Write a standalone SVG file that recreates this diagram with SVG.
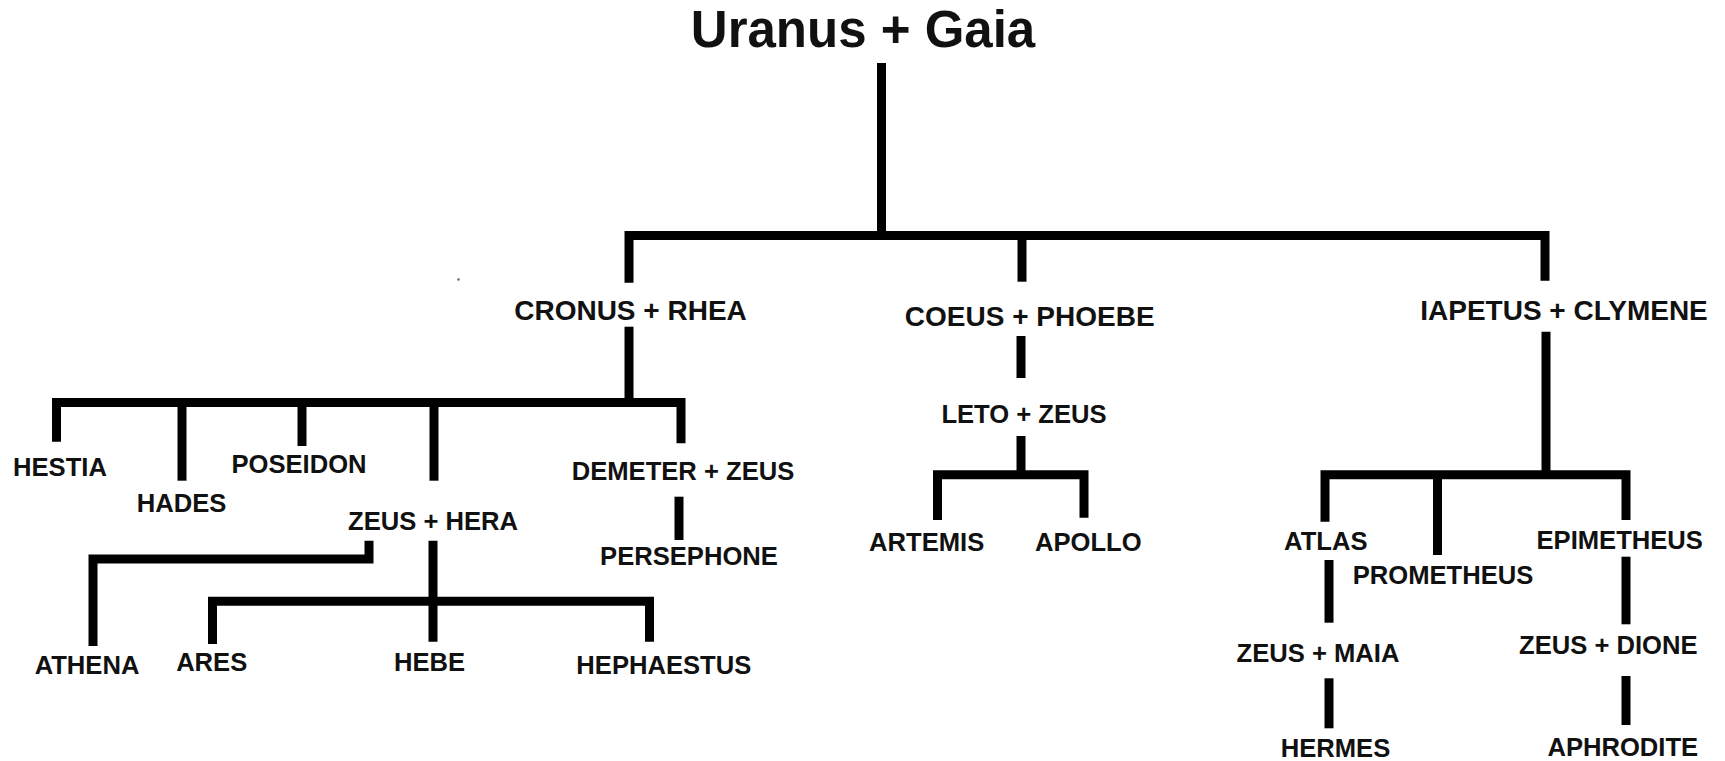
<svg xmlns="http://www.w3.org/2000/svg" width="1725" height="761" viewBox="0 0 1725 761">
<style>
text{font-family:"Liberation Sans",Arial,sans-serif;font-weight:bold;fill:#111;text-anchor:middle}
.t0{font-size:51px}
.t1{font-size:28px}
.t2{font-size:25.6px}
.c{fill:none;stroke:#000;stroke-width:9;stroke-linecap:butt;stroke-linejoin:miter}
</style>
<rect width="1725" height="761" fill="#fff"/>
<g id="connectors">
<path class="c" d="M881.5 63V236"/>
<path class="c" d="M629 282.7V235.5H1545V280.7"/>
<path class="c" d="M1022 235.5V281.7"/>
<path class="c" d="M629 326.7V402.5"/>
<path class="c" d="M56.5 441.7V402.5H681V443.3"/>
<path class="c" d="M182 402.5V480.7"/>
<path class="c" d="M302 402.5V446"/>
<path class="c" d="M434 402.5V480.7"/>
<path class="c" d="M679 496.7V540"/>
<path class="c" d="M369 540.7V559H93V646"/>
<path class="c" d="M433 540.7V641.7"/>
<path class="c" d="M212.5 644V601.3H649.5V641.7"/>
<path class="c" d="M1021 336V378"/>
<path class="c" d="M1021 436V474.7"/>
<path class="c" d="M937.5 520V474.7H1084V517.7"/>
<path class="c" d="M1546 331.7V474.7"/>
<path class="c" d="M1325 521.7V474.7H1626V520"/>
<path class="c" d="M1437.5 474.7V555"/>
<path class="c" d="M1329 560V622.7"/>
<path class="c" d="M1329 678.3V728.3"/>
<path class="c" d="M1626 556.7V624.3"/>
<path class="c" d="M1626 676V725"/>
</g>
<circle cx="458.5" cy="279.5" r="1.2" fill="#666"/>
<g id="uranus-gaia"><text class="t0" x="863" y="47">Uranus + Gaia</text></g>
<g id="cronus-rhea"><text class="t1" x="630.5" y="320">CRONUS + RHEA</text></g>
<g id="coeus-phoebe"><text class="t1" x="1029.7" y="326">COEUS + PHOEBE</text></g>
<g id="iapetus-clymene"><text class="t1" x="1564" y="319.5">IAPETUS + CLYMENE</text></g>
<g id="hestia"><text class="t2" x="60" y="476">HESTIA</text></g>
<g id="hades"><text class="t2" x="181.5" y="512">HADES</text></g>
<g id="poseidon"><text class="t2" x="299" y="472.5">POSEIDON</text></g>
<g id="zeus-hera"><text class="t2" x="433" y="529.5">ZEUS + HERA</text></g>
<g id="demeter-zeus"><text class="t2" x="683" y="479.5">DEMETER + ZEUS</text></g>
<g id="persephone"><text class="t2" x="689" y="564.5">PERSEPHONE</text></g>
<g id="athena"><text class="t2" x="87" y="673.5">ATHENA</text></g>
<g id="ares"><text class="t2" x="211.7" y="671">ARES</text></g>
<g id="hebe"><text class="t2" x="429.5" y="671">HEBE</text></g>
<g id="hephaestus"><text class="t2" x="663.8" y="673.5">HEPHAESTUS</text></g>
<g id="leto-zeus"><text class="t2" x="1024" y="422.8">LETO + ZEUS</text></g>
<g id="artemis"><text class="t2" x="926.7" y="551">ARTEMIS</text></g>
<g id="apollo"><text class="t2" x="1088.3" y="551">APOLLO</text></g>
<g id="atlas"><text class="t2" x="1325.8" y="550">ATLAS</text></g>
<g id="prometheus"><text class="t2" x="1443" y="583.5">PROMETHEUS</text></g>
<g id="epimetheus"><text class="t2" x="1619.7" y="548.8">EPIMETHEUS</text></g>
<g id="zeus-maia"><text class="t2" x="1318" y="662">ZEUS + MAIA</text></g>
<g id="hermes"><text class="t2" x="1335.5" y="757">HERMES</text></g>
<g id="zeus-dione"><text class="t2" x="1608.3" y="653.5">ZEUS + DIONE</text></g>
<g id="aphrodite"><text class="t2" x="1622.8" y="756">APHRODITE</text></g>
</svg>
